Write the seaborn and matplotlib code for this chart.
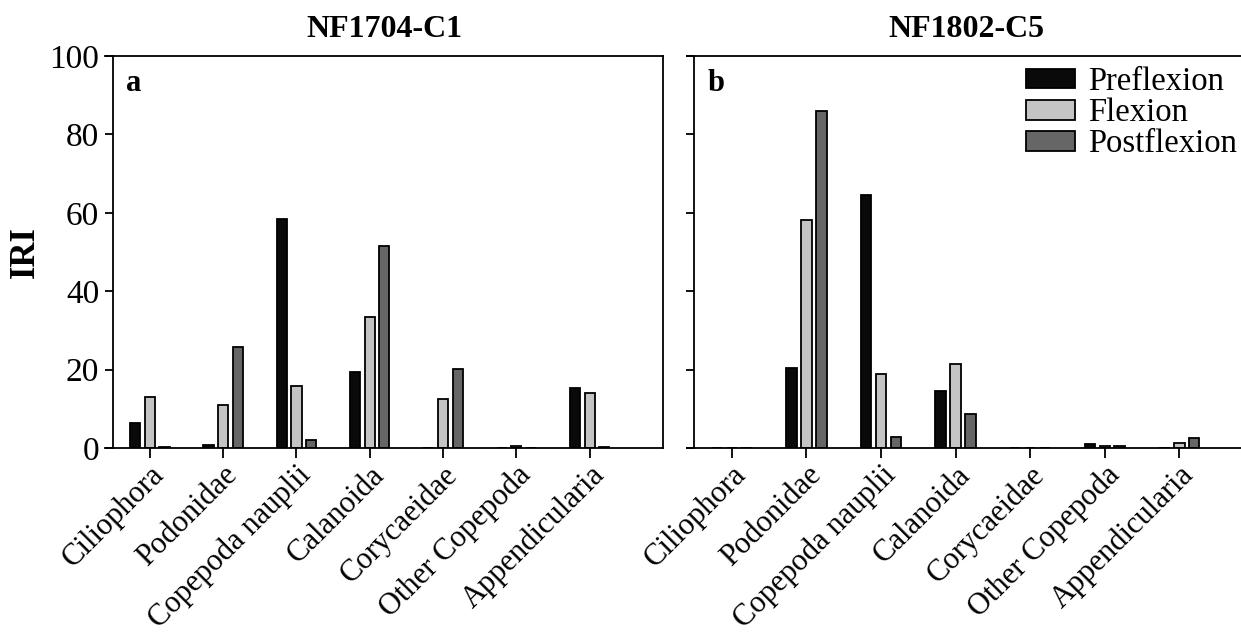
import numpy as np
import pandas as pd
import matplotlib
matplotlib.use("Agg")
import matplotlib.pyplot as plt
import seaborn as sns

# ── data ──────────────────────────────────────────────────────
prey = ["Ciliophora", "Podonidae", "Copepoda nauplii", "Calanoida",
        "Corycaeidae", "Other Copepoda", "Appendicularia"]
stages = ["Preflexion", "Flexion", "Postflexion"]

# NF1704-C1
a_pre = [6.5, 0.7, 58.5, 19.3, 0.0, 0.0, 15.3]
a_flex = [13.0, 11.0, 15.8, 33.5, 12.5, 0.4, 14.0]
a_post = [0.3, 25.8, 2.0, 51.5, 20.2, 0.0, 0.3]

# NF1802-C5
b_pre = [0.0, 20.5, 64.5, 14.5, 0.0, 1.0, 0.0]
b_flex = [0.0, 58.2, 19.0, 21.5, 0.0, 0.4, 1.3]
b_post = [0.0, 86.0, 2.7, 8.8, 0.0, 0.4, 2.5]

stage_colors = ["#0a0a0a", "#c4c4c4", "#666666"]


def long_table(pre, flex, post):
    rows = []
    for stage, vals in zip(stages, [pre, flex, post]):
        for p, v in zip(prey, vals):
            rows.append({"prey": p, "stage": stage, "IRI": v})
    return pd.DataFrame(rows)


df_a = long_table(a_pre, a_flex, a_post)
df_b = long_table(b_pre, b_flex, b_post)

sns.set_style("ticks")
plt.rcParams["font.family"] = ["Liberation Serif", "DejaVu Serif"]
plt.rcParams["axes.linewidth"] = 1.3
for key in ["text.color", "axes.labelcolor", "xtick.color", "ytick.color",
            "axes.edgecolor"]:
    plt.rcParams[key] = "black"

W, H = 1241, 634
fig = plt.figure(figsize=(W / 100, H / 100), dpi=100)
ax_a = fig.add_axes([105 / W, (H - 448) / H, 558 / W, 392 / H])
ax_b = fig.add_axes([687 / W, (H - 448) / H, 558 / W, 392 / H])

panels = [(ax_a, df_a, "NF1704-C1", "a", (-0.61, 7.0)),
          (ax_b, df_b, "NF1802-C5", "b", (-0.6, 6.88))]

for ax, d, title, letter, xlim in panels:
    sns.barplot(data=d, x="prey", y="IRI", hue="stage", hue_order=stages,
                order=prey, palette=stage_colors, width=0.6, gap=0.3,
                edgecolor="black", linewidth=1.3, errorbar=None,
                ax=ax, legend=(ax is ax_b))
    ax.set_xlim(*xlim)
    ax.set_ylim(0, 100)
    ax.spines["left"].set_position(("data", -0.5))
    ax.set_yticks([0, 20, 40, 60, 80, 100])
    ax.tick_params(axis="y", length=6, width=1.3, labelsize=24, pad=4)
    ax.tick_params(axis="x", length=7, width=1.3, labelsize=22, pad=2)
    ax.set_xlabel("")
    ax.set_ylabel("")
    for lbl in ax.get_xticklabels():
        lbl.set_rotation(45)
        lbl.set_ha("right")
        lbl.set_rotation_mode("anchor")
    ax.set_title(title, fontsize=23, fontweight="bold", pad=14)
    ax.text(-0.33, 93, letter, fontsize=22, fontweight="bold",
            ha="left", va="center")

ax_a.set_ylabel("IRI", fontsize=25, fontweight="bold")
ax_a.yaxis.set_label_coords(-0.113, 0.5)
ax_b.tick_params(axis="y", labelleft=False)

handles, labels = ax_b.get_legend_handles_labels()
ax_b.legend(handles, labels, loc="upper left", bbox_to_anchor=(0.57, 1.027),
            frameon=False, fontsize=23.5, handlelength=1.5, handleheight=0.55,
            labelspacing=0.02, handletextpad=0.4, borderaxespad=0.25)

fig.savefig("out.png", dpi=100)
